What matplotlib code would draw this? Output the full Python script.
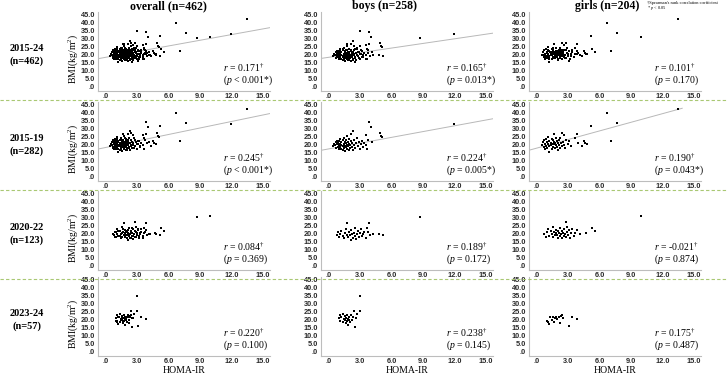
import numpy as np
import matplotlib.pyplot as plt
from matplotlib.lines import Line2D
from matplotlib.ticker import FuncFormatter, FixedLocator

# 数据: (HOMA-IR, BMI) 按时期和性别读取
boys_1519 = [(0.4, 18.6), (0.5, 20.1), (0.6, 19.2), (0.7, 21.5), (0.7, 17.8), (0.8, 22.3), (0.8, 19.9),
             (0.9, 18.4), (0.9, 20.7), (1.0, 16.9), (1.0, 21.8), (1.0, 19.3), (1.1, 23.1), (1.1, 18.0),
             (1.1, 20.4), (1.2, 17.3), (1.2, 21.1), (1.2, 19.6), (1.3, 22.6), (1.3, 18.8), (1.3, 16.2),
             (1.4, 20.2), (1.4, 24.0), (1.4, 17.6), (1.5, 19.0), (1.5, 21.7), (1.5, 15.8), (1.6, 18.3),
             (1.6, 22.9), (1.6, 20.6), (1.7, 17.1), (1.7, 19.8), (1.7, 25.1), (1.8, 21.3), (1.8, 18.6),
             (1.9, 16.6), (1.9, 20.0), (1.9, 23.4), (2.0, 19.2), (2.0, 17.7), (2.1, 21.9), (2.1, 26.2),
             (2.2, 18.1), (2.2, 20.5), (2.3, 16.4), (2.3, 28.4), (2.4, 22.4), (2.4, 19.5), (2.5, 17.5),
             (2.6, 20.9), (2.7, 23.8), (2.8, 18.9), (2.9, 21.2), (3.0, 16.8), (3.1, 20.3), (3.2, 22.1),
             (3.3, 18.2), (3.4, 21.0), (3.5, 19.4), (3.6, 17.0), (3.7, 22.6), (3.8, 33.7), (4.0, 30.9),
             (4.1, 21.5), (3.5, 25.5), (4.9, 27.0), (5.0, 25.2), (5.1, 24.3), (12.0, 32.6)]
girls_1519 = [(0.5, 19.8), (0.6, 21.2), (0.7, 18.3), (0.7, 22.5), (0.8, 20.4), (0.8, 16.9), (0.9, 19.1),
              (0.9, 23.4), (1.0, 21.7), (1.0, 17.8), (1.1, 20.0), (1.1, 24.6), (1.2, 18.7), (1.2, 22.1),
              (1.2, 15.0), (1.3, 19.6), (1.3, 21.0), (1.4, 17.2), (1.4, 23.0), (1.4, 20.3), (1.5, 18.4),
              (1.5, 22.8), (1.6, 19.9), (1.6, 26.2), (1.6, 21.4), (1.7, 17.6), (1.7, 20.8), (1.8, 23.6),
              (1.8, 19.2), (1.9, 21.9), (1.9, 18.0), (2.0, 20.5), (2.0, 16.4), (2.1, 22.4), (2.1, 19.4),
              (2.2, 24.1), (2.2, 17.9), (2.3, 20.9), (2.4, 26.8), (2.4, 18.8), (2.5, 21.6), (2.6, 26.0),
              (2.6, 19.7), (2.7, 17.5), (2.8, 22.7), (3.0, 20.2), (3.1, 21.9), (3.3, 18.6), (3.6, 24.0),
              (3.8, 26.7), (3.9, 20.7), (4.3, 19.0), (4.5, 22.2), (4.6, 21.0), (4.8, 20.3), (5.2, 31.2),
              (6.7, 39.5), (7.1, 22.0), (7.7, 33.0), (13.5, 41.8)]
boys_2022 = [(0.8, 18.9), (0.9, 20.6), (1.0, 17.8), (1.1, 19.5), (1.2, 21.6), (1.3, 18.2), (1.4, 16.8),
             (1.5, 20.1), (1.6, 22.5), (1.7, 19.0), (1.7, 26.4), (1.8, 17.4), (1.9, 20.8), (2.0, 18.6),
             (2.1, 15.6), (2.1, 21.9), (2.2, 19.7), (2.3, 17.1), (2.4, 20.4), (2.5, 23.1), (2.5, 18.0),
             (2.6, 16.3), (2.7, 19.3), (2.8, 21.4), (2.9, 17.6), (3.0, 20.0), (3.1, 22.8), (3.2, 18.5),
             (3.3, 19.8), (3.4, 21.0), (3.5, 17.3), (3.6, 23.5), (3.7, 20.5), (3.8, 26.3), (3.9, 18.9),
             (4.2, 19.3), (4.8, 19.8), (5.2, 18.8), (8.7, 30.4)]
girls_2022 = [(0.7, 19.2), (0.9, 17.4), (1.0, 20.8), (1.1, 22.6), (1.2, 18.5), (1.3, 21.3), (1.4, 19.7),
              (1.5, 23.9), (1.5, 17.9), (1.6, 20.6), (1.7, 18.8), (1.8, 22.0), (1.8, 20.1), (1.9, 19.0),
              (2.0, 21.5), (2.0, 17.3), (2.1, 20.3), (2.2, 23.0), (2.2, 18.4), (2.3, 19.6), (2.4, 21.1),
              (2.4, 16.9), (2.5, 20.0), (2.6, 18.0), (2.6, 22.4), (2.7, 19.4), (2.8, 27.0), (2.8, 17.4),
              (2.9, 24.0), (2.9, 20.7), (3.0, 18.7), (3.1, 21.8), (3.2, 17.2), (3.3, 19.9), (3.4, 22.6),
              (3.5, 18.3), (3.6, 20.4), (3.8, 21.8), (4.1, 19.8), (4.7, 20.3), (5.3, 23.2), (5.6, 21.2),
              (10.0, 30.5)]
boys_2324 = [(1.0, 20.7), (1.1, 22.5), (1.1, 19.0), (1.2, 21.4), (1.3, 18.2), (1.3, 23.3), (1.4, 20.1),
             (1.5, 19.4), (1.5, 21.9), (1.6, 17.5), (1.6, 20.6), (1.7, 18.8), (1.7, 22.4), (1.8, 20.0),
             (1.8, 16.6), (1.9, 19.3), (1.9, 21.2), (2.0, 18.0), (2.1, 22.9), (2.2, 19.6), (2.3, 21.5),
             (2.4, 24.9), (2.5, 15.4), (2.6, 20.8), (2.7, 23.4), (2.95, 25.3), (3.0, 34.4)]
girls_2324 = [(1.0, 19.0), (1.1, 18.4), (1.2, 16.9), (1.25, 21.7), (1.4, 19.6), (1.5, 21.2), (1.6, 18.5),
              (1.7, 20.9), (1.8, 21.5), (1.9, 20.4), (2.1, 21.7), (2.2, 17.5), (2.3, 22.3), (2.4, 22.8),
              (2.5, 20.7), (3.1, 15.8), (3.4, 21.2), (3.8, 20.3)]

row_labels = ['2015-24\n(n=462)', '2015-19\n(n=282)', '2020-22\n(n=123)', '2023-24\n(n=57)']
col_titles = ['overall (n=462)', 'boys (n=258)', 'girls (n=204)']

r_vals = [['0.171', '0.165', '0.101'],
          ['0.245', '0.224', '0.190'],
          ['0.084', '0.189', '-0.021'],
          ['0.220', '0.238', '0.175']]
p_vals = [['< 0.001*', '= 0.013*', '= 0.170'],
          ['< 0.001*', '= 0.005*', '= 0.043*'],
          ['= 0.369', '= 0.172', '= 0.874'],
          ['= 0.100', '= 0.145', '= 0.487']]

# 拟合线: (斜率, 截距, x终点)，None 表示无
fits = [[(1.18, 18.1, 15.7), (0.96, 18.1, 15.7), None],
        [(1.35, 18.0, 15.7), (1.20, 17.1, 15.7), (1.79, 17.6, 13.9)],
        [None, None, None],
        [None, None, None]]

xticks = [0, 3, 6, 9, 12, 15]
yticks = [0, 5, 10, 15, 20, 25, 30, 35, 40, 45]

# 组合各面板数据
boys = [boys_1519 + boys_2022 + boys_2324, boys_1519, boys_2022, boys_2324]
girls = [girls_1519 + girls_2022 + girls_2324, girls_1519, girls_2022, girls_2324]

plt.rcParams['mathtext.fontset'] = 'custom'
plt.rcParams['mathtext.rm'] = 'Liberation Serif'
plt.rcParams['mathtext.it'] = 'Liberation Serif:italic'

W, H = 728, 378
fig = plt.figure(figsize=(W / 100, H / 100), dpi=100)

col_left = [97.6, 320.6, 528.6]
ax_w = 172
row_bottom = [91, 181, 270, 356]
ax_h = 79
title_x = [168, 385, 607]

fmt = FuncFormatter(lambda v, pos: '.0' if v == 0 else f'{v:.1f}')

for i in range(4):
    for j in range(3):
        ax = fig.add_axes([col_left[j] / W, 1 - row_bottom[i] / H, ax_w / W, ax_h / H])
        if j == 0:
            pts = boys[i] + girls[i]
        elif j == 1:
            pts = boys[i]
        else:
            pts = girls[i]
        arr = np.array(pts)
        ax.scatter(arr[:, 0], arr[:, 1], s=3.4, marker='s', color='black', linewidths=0, zorder=3)
        f = fits[i][j]
        if f is not None:
            xs = np.array([-0.8, f[2]])
            ax.plot(xs, f[1] + f[0] * xs, color='#b8b8b8', lw=0.7, zorder=2)
        ax.set_xlim(-0.8, 15.66)
        ax.set_ylim(-3, 46.4)
        ax.xaxis.set_major_locator(FixedLocator(xticks))
        ax.yaxis.set_major_locator(FixedLocator(yticks))
        ax.xaxis.set_major_formatter(fmt)
        ax.yaxis.set_major_formatter(fmt)
        ax.tick_params(length=0, labelsize=5.3, colors='#2a2a2a')
        ax.tick_params(axis='x', pad=1.5)
        ax.tick_params(axis='y', pad=2)
        for lab in ax.get_xticklabels() + ax.get_yticklabels():
            lab.set_fontweight('bold')
            lab.set_family('Liberation Sans')
        for s in ['top', 'right']:
            ax.spines[s].set_visible(False)
        for s in ['left', 'bottom']:
            ax.spines[s].set_color('#bdbdbd')
            ax.spines[s].set_linewidth(0.8)
        ax.text(0.73, 0.29, '$r$ = ' + r_vals[i][j] + r'$^{\dagger}$', transform=ax.transAxes,
                family='Liberation Serif', fontsize=7, va='center', ha='left')
        ax.text(0.73, 0.14, '($p$ ' + p_vals[i][j] + ')', transform=ax.transAxes,
                family='Liberation Serif', fontsize=7, va='center', ha='left')
        if j == 0:
            ax.text(-0.14, 0.41, 'BMI(kg/m$^2$)', transform=ax.transAxes, rotation=90,
                    family='Liberation Serif', fontsize=7, va='center', ha='center')
            fig.text(27 / W, 1 - (row_bottom[i] - 36) / H, row_labels[i], family='Liberation Serif',
                     fontweight='bold', fontsize=7.5, ha='center', va='center', linespacing=1.4)
        if i == 0:
            fig.text(title_x[j] / W, 1 - 6 / H, col_titles[j], family='Liberation Serif',
                     fontweight='bold', fontsize=8.5, ha='center', va='center')
        if i == 3:
            ax.set_xlabel('HOMA-IR', family='Liberation Serif', fontsize=7, labelpad=1)

# 分隔虚线
for yp in [100, 190, 279]:
    fig.add_artist(Line2D([0, 1], [1 - yp / H, 1 - yp / H], transform=fig.transFigure,
                          color='#a9c873', lw=0.8, ls=(0, (3, 2))))

fig.text(647 / W, 1 - 3 / H, '\u2020Spearman\'s rank correlation coefficient', family='Liberation Serif',
         fontsize=3.2, ha='left', va='center')
fig.text(647 / W, 1 - 8 / H, '* $p$ < 0.05', family='Liberation Serif', fontsize=3.2, ha='left', va='center')

fig.savefig('out.png', dpi=100)
